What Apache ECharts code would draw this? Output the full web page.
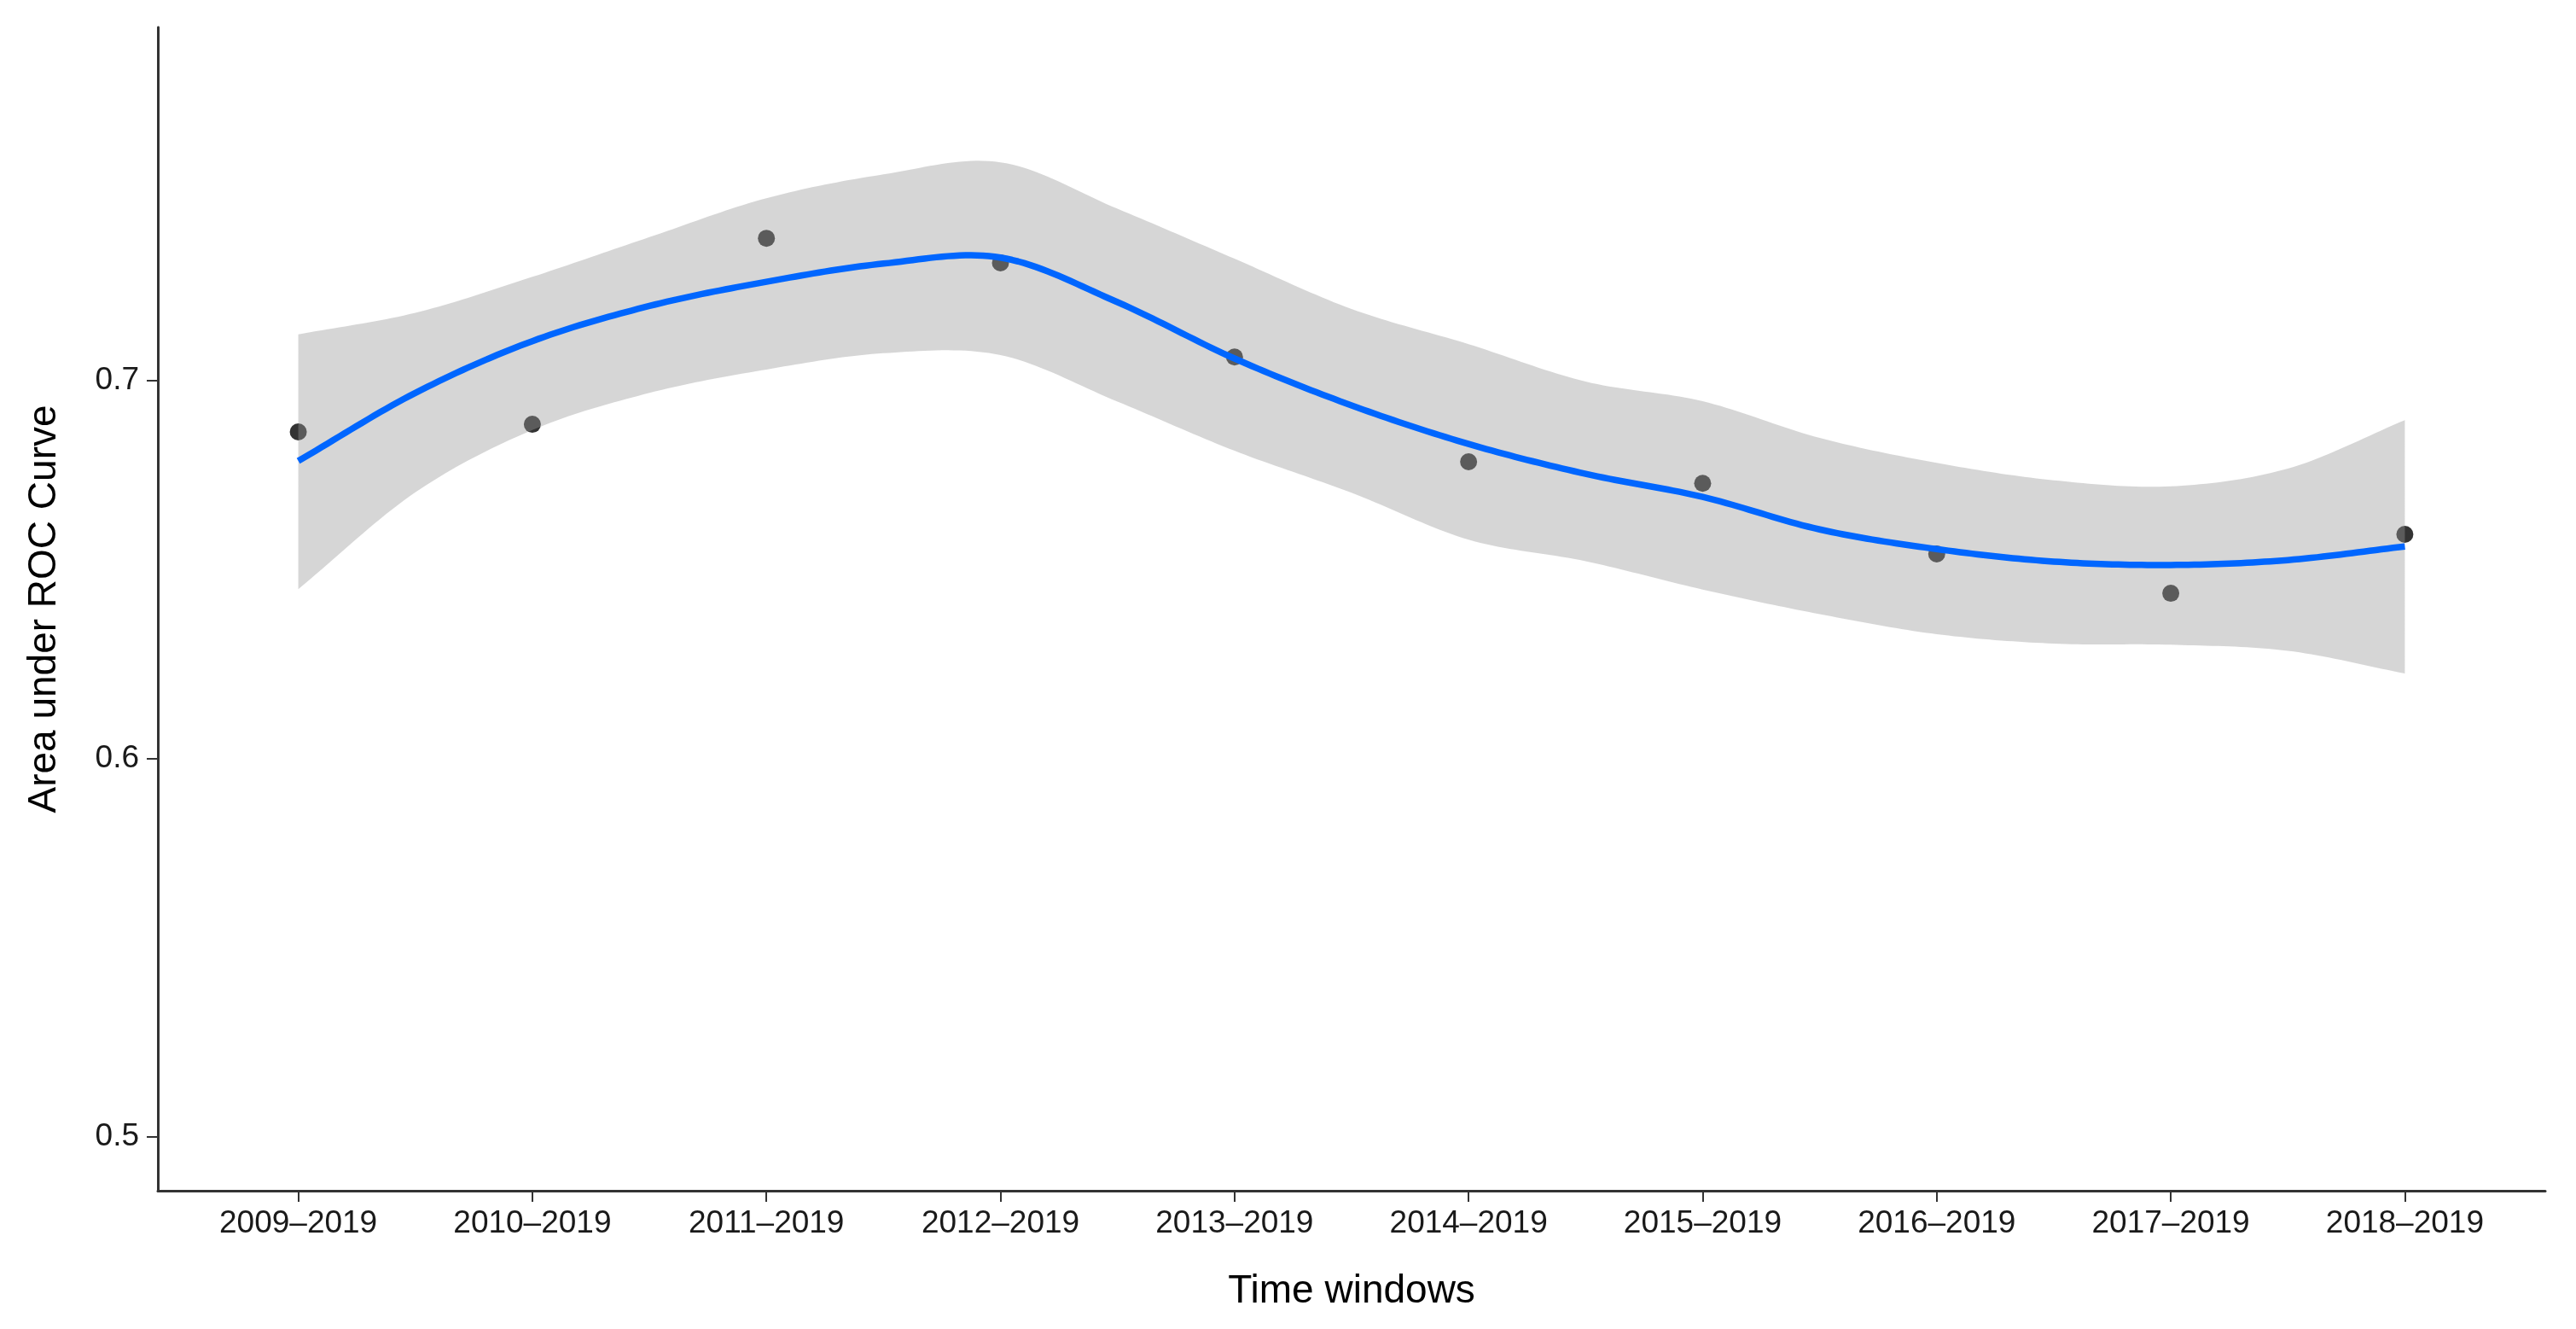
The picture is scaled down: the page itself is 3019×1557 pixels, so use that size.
<!DOCTYPE html>
<html>
<head>
<meta charset="utf-8">
<script src="https://cdn.jsdelivr.net/npm/echarts@6/dist/echarts.min.js"></script>
<style>
html,body{margin:0;padding:0;background:#fff;}
#chart{width:3019px;height:1557px;}
</style>
</head>
<body>
<div id="chart"></div>
<script>
// ---- data ----
const categories = ['2009–2019','2010–2019','2011–2019','2012–2019','2013–2019','2014–2019','2015–2019','2016–2019','2017–2019','2018–2019'];
const aucValues = [0.6865,0.6885,0.7377,0.7312,0.7063,0.6786,0.6729,0.6542,0.6438,0.6594];
const yTicks = [0.5, 0.6, 0.7];

// smoothed (loess) curve and its confidence band at half-category steps
const smoothX   = [0,0.5,1,1.5,2,2.5,3,3.5,4,4.5,5,5.5,6,6.5,7,7.5,8,8.5,9];
const smoothFit = [0.6788,0.6968,0.7105,0.7198,0.7262,0.7310,0.7326,0.7208,0.7059,0.6935,0.6833,0.6754,0.6693,0.6607,0.6555,0.6522,0.6513,0.6526,0.6562];
const bandLower = [0.6449,0.6705,0.6870,0.6968,0.7030,0.7073,0.7068,0.6945,0.6815,0.6704,0.6580,0.6523,0.6448,0.6383,0.6330,0.6305,0.6302,0.6286,0.6226];
const bandUpper = [0.7123,0.7180,0.7275,0.7380,0.7483,0.7546,0.7578,0.7455,0.7323,0.7190,0.7097,0.6998,0.6946,0.6849,0.6783,0.6737,0.6721,0.6768,0.6896];

const fontFam = '"Liberation Sans", Arial, Helvetica, sans-serif';
const chart = echarts.init(document.getElementById('chart'));

const catIdx = categories.map((c, i) => i);
const pointData = aucValues.map((v, i) => [i, v]);
const fitData = smoothX.map((x, i) => [x, smoothFit[i]]);
const bandData = smoothX.map((x, i) => [x, bandLower[i], bandUpper[i]]);

// Catmull-Rom rendering of a pixel polyline (visual smoothing only)
function smoothPixels(pts) {
  const out = [];
  const n = pts.length;
  const get = j => {
    if (j < 0) return [2 * pts[0][0] - pts[1][0], 2 * pts[0][1] - pts[1][1]];
    if (j > n - 1) return [2 * pts[n - 1][0] - pts[n - 2][0], 2 * pts[n - 1][1] - pts[n - 2][1]];
    return pts[j];
  };
  for (let i = 0; i < n - 1; i++) {
    const p0 = get(i - 1), p1 = pts[i], p2 = pts[i + 1], p3 = get(i + 2);
    const steps = 20;
    for (let s = 0; s < steps; s++) {
      const t = s / steps, t2 = t * t, t3 = t2 * t;
      const f = k => 0.5 * ((2 * p1[k]) + (-p0[k] + p2[k]) * t + (2 * p0[k] - 5 * p1[k] + 4 * p2[k] - p3[k]) * t2 + (-p0[k] + 3 * p1[k] - 3 * p2[k] + p3[k]) * t3);
      out.push([f(0), f(1)]);
    }
  }
  out.push(pts[n - 1]);
  return out;
}

chart.setOption({
  backgroundColor: '#ffffff',
  animation: false,
  grid: { left: 185, right: 36, top: 32, bottom: 162, containLabel: false },
  xAxis: {
    type: 'value',
    min: -0.6, max: 9.6,
    name: 'Time windows',
    nameLocation: 'middle',
    nameGap: 95,
    nameTextStyle: { fontFamily: fontFam, fontSize: 46, color: '#000' },
    axisLine: { show: true, onZero: false, lineStyle: { color: '#333', width: 3 } },
    axisTick: { show: true, length: 13, customValues: catIdx, lineStyle: { color: '#333', width: 2 } },
    axisLabel: {
      customValues: catIdx,
      margin: 20,
      fontFamily: fontFam, fontSize: 37, color: '#1a1a1a',
      formatter: v => categories[Math.round(v)]
    },
    splitLine: { show: false }
  },
  yAxis: {
    type: 'value',
    min: 0.4858, max: 0.7935,
    name: 'Area under ROC Curve',
    nameLocation: 'middle',
    nameGap: 110,
    nameTextStyle: { fontFamily: fontFam, fontSize: 46, color: '#000' },
    axisLine: { show: true, onZero: false, lineStyle: { color: '#333', width: 3 } },
    axisTick: { show: true, length: 13, customValues: yTicks, lineStyle: { color: '#333', width: 2 } },
    axisLabel: {
      customValues: yTicks,
      margin: 22,
      fontFamily: fontFam, fontSize: 37, color: '#1a1a1a',
      formatter: v => v.toFixed(1)
    },
    splitLine: { show: false }
  },
  series: [
    {
      name: 'AUC', type: 'scatter', z: 2,
      data: pointData, symbol: 'circle', symbolSize: 20,
      itemStyle: { color: '#000' }
    },
    {
      name: 'band', type: 'custom', z: 3,
      data: bandData,
      encode: { x: 0, y: [1, 2] },
      renderItem: function (params, api) {
        if (params.dataIndex !== 0) return null;
        const upper = bandData.map(d => api.coord([d[0], d[2]]));
        const lower = bandData.map(d => api.coord([d[0], d[1]]));
        const top = smoothPixels(upper);
        const bot = smoothPixels(lower).reverse();
        return {
          type: 'polygon',
          shape: { points: top.concat(bot) },
          style: { fill: 'rgba(153,153,153,0.4)', stroke: null }
        };
      }
    },
    {
      name: 'fit', type: 'custom', z: 4,
      data: fitData,
      encode: { x: 0, y: 1 },
      renderItem: function (params, api) {
        if (params.dataIndex !== 0) return null;
        const pts = fitData.map(d => api.coord(d));
        return {
          type: 'polyline',
          shape: { points: smoothPixels(pts) },
          style: { fill: null, stroke: '#0066ff', lineWidth: 7.5, lineJoin: 'round' }
        };
      }
    }
  ]
});
</script>
</body>
</html>
